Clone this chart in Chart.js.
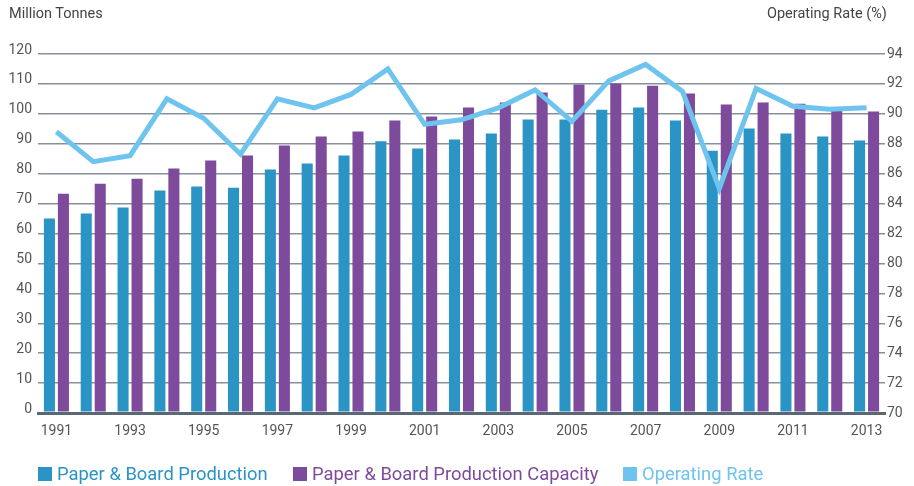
<!DOCTYPE html>
<html>
<head>
<meta charset="utf-8">
<script src="https://cdn.jsdelivr.net/npm/chart.js@4.4.1/dist/chart.umd.min.js"></script>
<style>
  body { margin: 0; background: #fff; font-family: Roboto, sans-serif; }
  #wrap { position: relative; width: 914px; height: 486px; }
  #chart { position: absolute; left: 0; top: 0; }
  .title { position: absolute; top: 6px; font-size: 14.5px; line-height: 16px; color: #444; }
  .legend-item { position: absolute; top: 465px; display: flex; align-items: center; font-size: 18.4px; line-height: 18px; }
  .legend-item span.box { width: 14px; height: 14px; margin-right: 5px; display: inline-block; }
</style>
</head>
<body>
<div id="wrap">
  <canvas id="chart" width="914" height="486"></canvas>
  <div class="title" style="left:9px">Million Tonnes</div>
  <div class="title" style="left:767px">Operating Rate (%)</div>
  <div id="legend"></div>
</div>
<script>
const years = ["1991", "1992", "1993", "1994", "1995", "1996", "1997", "1998", "1999", "2000", "2001", "2002",
    "2003", "2004", "2005", "2006", "2007", "2008", "2009", "2010", "2011", "2012", "2013"];
const production = [65.0, 66.7, 68.7, 74.4, 75.7, 75.3, 81.4, 83.4, 86.1, 90.8, 88.4, 91.4,
    93.4, 98.1, 98.1, 101.4, 102.1, 97.8, 87.7, 95.1, 93.4, 92.4, 91.1];
const capacity = [73.3, 76.6, 78.3, 81.7, 84.4, 86.1, 89.4, 92.4, 94.1, 97.8, 99.1, 102.1,
    103.8, 107.1, 109.8, 110.1, 109.4, 106.8, 103.1, 103.8, 103.4, 101.1, 100.8];
const operatingRate = [88.8, 86.8, 87.2, 91.0, 89.7, 87.3, 91.0, 90.4, 91.3, 93.0, 89.3, 89.6,
    90.4, 91.6, 89.5, 92.2, 93.3, 91.5, 85.0, 91.7, 90.5, 90.3, 90.4];
const seriesNames = ["Paper & Board Production", "Paper & Board Production Capacity", "Operating Rate"];
const colors = ["#2a94c4", "#7d4a9c", "#6ec4ee"];

const gridColor = "#85929d";
const baseColor = "#5a6873";

/* Chart */
const chart = new Chart(document.getElementById("chart"), {
    type: "bar",
    data: {
        labels: years,
        datasets: [
            { label: seriesNames[0], data: production, backgroundColor: colors[0], order: 1,
              categoryPercentage: 0.76, barPercentage: 0.79 },
            { label: seriesNames[1], data: capacity, backgroundColor: colors[1], order: 1,
              categoryPercentage: 0.76, barPercentage: 0.79 },
            { type: "line", label: seriesNames[2], data: operatingRate, yAxisID: "y1", order: 0,
              borderColor: colors[2], borderWidth: 5, pointRadius: 0, tension: 0, fill: false }
        ]
    },
    options: {
        responsive: false,
        animation: false,
        layout: { padding: { top: 54, bottom: 33, left: 0, right: 0 } },
        plugins: { legend: { display: false }, tooltip: { enabled: false } },
        scales: {
            x: {
                grid: { display: false },
                border: { display: true, color: baseColor, width: 3 },
                ticks: {
                    autoSkip: false, maxRotation: 0, padding: 2, color: "#555",
                    font: { family: "Roboto", size: 14 },
                    callback: (v, i) => i % 2 === 0 ? years[i] : ""
                },
                afterFit: s => { s.height = 40; }
            },
            y: {
                position: "left", min: 0, max: 120,
                border: { display: false },
                grid: {
                    drawTicks: false,
                    color: c => c.tick.value === 0 ? baseColor : gridColor,
                    lineWidth: c => c.tick.value === 0 ? 3 : 1.5
                },
                ticks: { stepSize: 10, padding: 6, labelOffset: -4, color: "#555", font: { family: "Roboto", size: 14 } },
                afterFit: s => { s.width = 38; }
            },
            y1: {
                position: "right", min: 70, max: 94,
                border: { display: false },
                grid: { display: false, drawTicks: false },
                ticks: { stepSize: 2, padding: 2, color: "#555", font: { family: "Roboto", size: 14 } },
                afterFit: s => { s.width = 29; }
            }
        }
    }
});

/* Legend */
const legendX = [38, 293, 623];
const legend = document.getElementById("legend");
seriesNames.forEach((name, i) => {
    const div = document.createElement("div");
    div.className = "legend-item";
    div.style.left = legendX[i] + "px";
    div.style.color = colors[i];
    div.innerHTML = `<span class="box" style="background:${colors[i]}"></span>${name}`;
    legend.appendChild(div);
});
</script>
</body>
</html>
